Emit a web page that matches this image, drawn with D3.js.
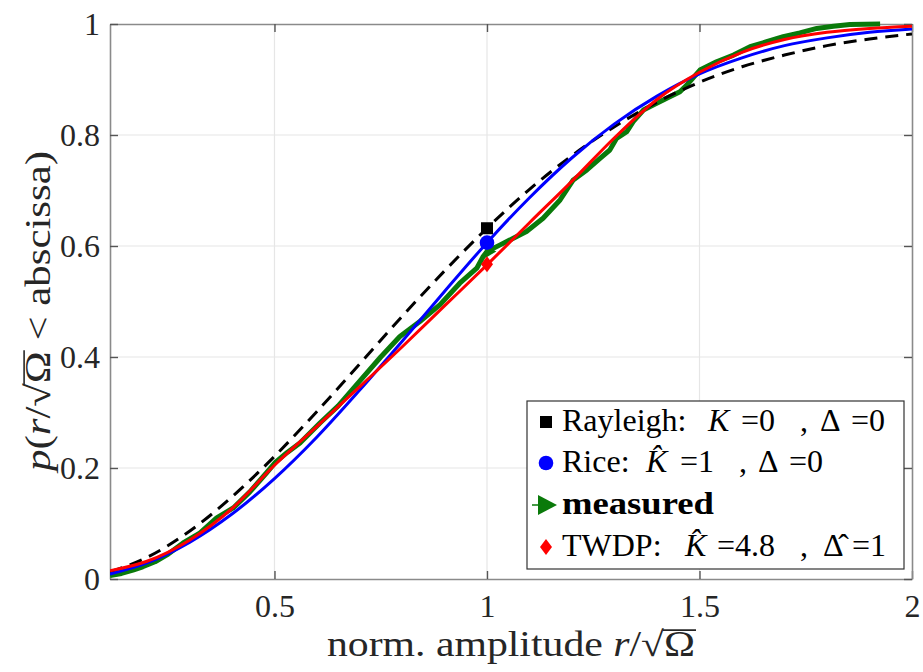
<!DOCTYPE html>
<html>
<head>
<meta charset="utf-8">
<script src="https://cdn.jsdelivr.net/npm/d3@7"></script>
<style>
  body { margin: 0; background: #fff; }
</style>
</head>
<body>
<svg id="chart" width="923" height="672" font-family="Liberation Serif"></svg>
<script>
const xModel = [0.113, 0.2, 0.3, 0.4, 0.5, 0.6, 0.7, 0.8, 0.9, 1.0, 1.1, 1.2, 1.3, 1.4, 1.5, 1.6, 1.7, 1.8, 1.9, 2.0];
const rayleighCdf = [0.013, 0.039, 0.086, 0.148, 0.221, 0.302, 0.387, 0.473, 0.555, 0.632, 0.702, 0.763, 0.815, 0.859, 0.895, 0.923, 0.944, 0.961, 0.973, 0.982];
const riceCdf = [0.009, 0.029, 0.066, 0.117, 0.181, 0.256, 0.340, 0.428, 0.518, 0.606, 0.687, 0.759, 0.820, 0.870, 0.910, 0.939, 0.961, 0.975, 0.985, 0.991];
const twdpCdf = [0.015, 0.032, 0.070, 0.127, 0.205, 0.275, 0.346, 0.418, 0.492, 0.566, 0.642, 0.717, 0.795, 0.864, 0.913, 0.949, 0.972, 0.985, 0.992, 0.996];

// empirical CDF of the measurement
const xMeas = [0.113, 0.14, 0.167, 0.19, 0.219, 0.25, 0.285, 0.325, 0.364, 0.403, 0.442, 0.481, 0.502, 0.53, 0.56, 0.607, 0.65, 0.7, 0.75, 0.795, 0.842, 0.889, 0.936, 0.976, 0.991, 1.0, 1.031, 1.062, 1.093, 1.132, 1.172, 1.203, 1.235, 1.266, 1.289, 1.305, 1.329, 1.344, 1.368, 1.391, 1.423, 1.454, 1.47, 1.501, 1.54, 1.58, 1.619, 1.658, 1.697, 1.736, 1.776, 1.815, 1.854, 1.925];
const measCdf = [0.006, 0.010, 0.016, 0.022, 0.031, 0.045, 0.065, 0.083, 0.110, 0.128, 0.157, 0.191, 0.210, 0.228, 0.245, 0.281, 0.312, 0.356, 0.400, 0.437, 0.464, 0.494, 0.533, 0.560, 0.581, 0.590, 0.602, 0.614, 0.626, 0.650, 0.683, 0.719, 0.737, 0.758, 0.773, 0.794, 0.806, 0.824, 0.845, 0.854, 0.866, 0.878, 0.890, 0.917, 0.932, 0.944, 0.959, 0.968, 0.977, 0.984, 0.992, 0.996, 0.999, 1.0];

// value of each model at r = 1 (the markers)
const markerX = 1;
const markerRayleigh = 0.632;
const markerRice = 0.606;
const markerMeas = 0.590;
const markerTwdp = 0.567;

const xTicks = [0.5, 1, 1.5, 2];
const yTicks = [0, 0.2, 0.4, 0.6, 0.8, 1];

const FONT = "Liberation Serif";
const margin = { left: 110, top: 24, right: 11, bottom: 93 };
const width = 923, height = 672;
const svg = d3.select("#chart");

const x = d3.scaleLinear().domain([0.113, 2]).range([margin.left, width - margin.right]);
const y = d3.scaleLinear().domain([0, 1]).range([height - margin.bottom, margin.top]);

// grid
svg.append("g")
    .selectAll("line")
    .data(xTicks.slice(0, -1))
    .join("line")
    .attr("x1", d => x(d)).attr("x2", d => x(d))
    .attr("y1", y(0)).attr("y2", y(1))
    .attr("stroke", "#e6e6e6").attr("stroke-width", 1.2);
svg.append("g")
    .selectAll("line")
    .data(yTicks.slice(1, -1))
    .join("line")
    .attr("y1", d => y(d)).attr("y2", d => y(d))
    .attr("x1", x.range()[0]).attr("x2", x.range()[1])
    .attr("stroke", "#e6e6e6").attr("stroke-width", 1.2);

// axes (ticks inside, box on)
const tickLen = 8;
const axB = svg.append("g").attr("transform", `translate(0,${y(0)})`)
    .call(d3.axisBottom(x).tickValues(xTicks).tickSizeInner(-tickLen).tickSizeOuter(0).tickPadding(15).tickFormat(d3.format("")));
const axT = svg.append("g").attr("transform", `translate(0,${y(1)})`)
    .call(d3.axisTop(x).tickValues(xTicks).tickSizeInner(-tickLen).tickSizeOuter(0).tickFormat(""));
const axL = svg.append("g").attr("transform", `translate(${x.range()[0]},0)`)
    .call(d3.axisLeft(y).tickValues(yTicks).tickSizeInner(-tickLen).tickSizeOuter(0).tickPadding(10).tickFormat(d3.format("")));
const axR = svg.append("g").attr("transform", `translate(${x.range()[1]},0)`)
    .call(d3.axisRight(y).tickValues(yTicks).tickSizeInner(-tickLen).tickSizeOuter(0).tickFormat(""));
[axB, axT, axL, axR].forEach(a => {
    a.attr("font-family", FONT).attr("font-size", 32);
    a.select(".domain").attr("stroke", "#8a8a8a").attr("stroke-width", 1.6);
    a.selectAll(".tick line").attr("stroke", "#555").attr("stroke-width", 1.4);
    a.selectAll(".tick text").attr("fill", "#262626");
});

svg.append("clipPath").attr("id", "clip").append("rect")
    .attr("x", x.range()[0]).attr("y", y(1) - 4)
    .attr("width", x.range()[1] - x.range()[0]).attr("height", y(0) - y(1) + 4);

// measured marker sits under the curves
const tri = d3.symbol().type(d3.symbolTriangle);
svg.append("path").attr("d", tri.size(70)())
    .attr("transform", `translate(${x(markerX) + 2},${y(markerMeas)}) rotate(90)`).attr("fill", "#0a7a0a");

const plot = svg.append("g").attr("clip-path", "url(#clip)");
const line = d3.line().x(d => x(d[0])).y(d => y(d[1])).curve(d3.curveMonotoneX);
const lineLin = d3.line().x(d => x(d[0])).y(d => y(d[1]));

plot.append("path")
    .attr("d", lineLin(d3.zip(xMeas, measCdf)))
    .attr("fill", "none").attr("stroke", "#0a7a0a").attr("stroke-width", 5)
    .attr("stroke-linejoin", "round");
plot.append("path")
    .attr("d", line(d3.zip(xModel, rayleighCdf)))
    .attr("fill", "none").attr("stroke", "#000").attr("stroke-width", 3)
    .attr("stroke-dasharray", "13,8");
plot.append("path")
    .attr("d", line(d3.zip(xModel, riceCdf)))
    .attr("fill", "none").attr("stroke", "#0000ff").attr("stroke-width", 3);
plot.append("path")
    .attr("d", line(d3.zip(xModel, twdpCdf)))
    .attr("fill", "none").attr("stroke", "#ff0000").attr("stroke-width", 3);

// markers at r = 1
const diamond = "M0,-8L6,0L0,8L-6,0Z";
svg.append("rect")
    .attr("x", x(markerX) - 6).attr("y", y(markerRayleigh) - 6)
    .attr("width", 12).attr("height", 12).attr("fill", "#000");
svg.append("circle")
    .attr("cx", x(markerX)).attr("cy", y(markerRice)).attr("r", 7.3).attr("fill", "#0000ff");
svg.append("path").attr("d", diamond)
    .attr("transform", `translate(${x(markerX)},${y(markerTwdp)})`).attr("fill", "#ff0000");

// legend
const leg = svg.append("g").attr("font-family", FONT).attr("font-size", 32);
leg.append("rect").attr("x", 527).attr("y", 401).attr("width", 377).attr("height", 168)
    .attr("fill", "#fff").attr("stroke", "#333").attr("stroke-width", 1.2);
const rowsY = [422, 463, 505, 547];
const mx = 546;
leg.append("rect").attr("x", mx - 6).attr("y", rowsY[0] - 6).attr("width", 12).attr("height", 12).attr("fill", "#000");
leg.append("circle").attr("cx", mx).attr("cy", rowsY[1]).attr("r", 7.3).attr("fill", "#0000ff");
leg.append("line").attr("x1", mx - 14).attr("x2", mx).attr("y1", rowsY[2]).attr("y2", rowsY[2])
    .attr("stroke", "#0a7a0a").attr("stroke-width", 1.5);
leg.append("path").attr("d", "M-8,-10L11,0L-8,10Z")
    .attr("transform", `translate(${mx},${rowsY[2]})`).attr("fill", "#0a7a0a");
leg.append("path").attr("d", diamond).attr("transform", `translate(${mx},${rowsY[3]})`).attr("fill", "#ff0000");

// each legend part placed where it sits in the reference
function legText(row, parts) {
    const t = leg.append("text").attr("y", rowsY[row] + 9).attr("fill", "#000");
    parts.forEach(p => {
        const s = t.append("tspan").attr("x", p.x).text(p.t);
        if (p.i) s.attr("font-style", "italic");
        if (p.b) s.attr("font-weight", "bold").attr("textLength", p.w).attr("lengthAdjust", "spacingAndGlyphs");
    });
}
legText(0, [{ t: "Rayleigh:", x: 562 }, { t: "K", i: true, x: 708 }, { t: "=0", x: 741 }, { t: ",", x: 800 }, { t: "Δ", x: 820 }, { t: "=0", x: 851 }]);
legText(1, [{ t: "Rice:", x: 562 }, { t: "K\u0302", i: true, x: 646 }, { t: "=1", x: 680 }, { t: ",", x: 739 }, { t: "Δ", x: 758 }, { t: "=0", x: 789 }]);
legText(2, [{ t: "measured", b: true, x: 562, w: 152 }]);
legText(3, [{ t: "TWDP:", x: 562 }, { t: "K\u0302", i: true, x: 685 }, { t: "=4.8", x: 717 }, { t: ",", x: 800 }, { t: "Δ\u0302", x: 823 }, { t: "=1", x: 852 }]);

// axis labels; the radical bar over Ω is drawn as a line
const LABEL_FS = 35;
function radicalBar(group, omega) {
    try {
        const n = omega.node();
        const s = n.getStartPositionOfChar(0), e = n.getEndPositionOfChar(0);
        const top = s.y - 0.74 * LABEL_FS;
        group.append("line")
            .attr("x1", s.x - 1).attr("x2", e.x + 1).attr("y1", top).attr("y2", top)
            .attr("stroke", "#262626").attr("stroke-width", 1.6);
    } catch (err) { /* leave the label without bar */ }
}

const xg = svg.append("g");
const xl = xg.append("text").attr("x", 511).attr("y", 656).attr("text-anchor", "middle")
    .attr("font-family", FONT).attr("font-size", LABEL_FS).attr("fill", "#262626")
    .attr("textLength", 368).attr("lengthAdjust", "spacingAndGlyphs");
xl.append("tspan").text("norm. amplitude ");
xl.append("tspan").text("r").attr("font-style", "italic");
xl.append("tspan").text("/√");
const xOmega = xl.append("tspan").text("Ω");
radicalBar(xg, xOmega);

const yg = svg.append("g").attr("transform", `translate(50,311) rotate(-90)`);
const yl = yg.append("text")
    .attr("text-anchor", "middle")
    .attr("font-family", FONT).attr("font-size", LABEL_FS).attr("fill", "#262626")
    .attr("textLength", 320).attr("lengthAdjust", "spacingAndGlyphs");
yl.append("tspan").text("p").attr("font-style", "italic");
yl.append("tspan").text("(");
yl.append("tspan").text("r").attr("font-style", "italic");
yl.append("tspan").text("/√");
const yOmega = yl.append("tspan").text("Ω");
yl.append("tspan").text(" < abscissa)");
radicalBar(yg, yOmega);
</script>
</body>
</html>
